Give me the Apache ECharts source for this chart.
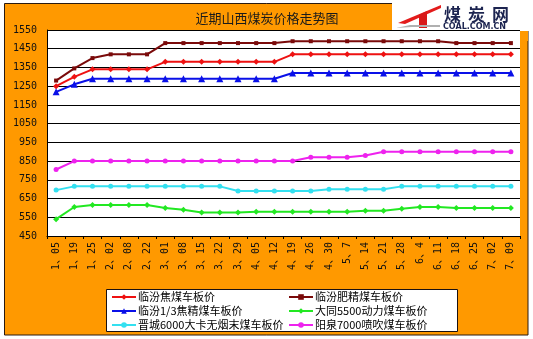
<!DOCTYPE html>
<html>
<head>
<meta charset="utf-8">
<script src="https://cdn.jsdelivr.net/npm/echarts@6/dist/echarts.min.js"></script>
<style>
  html, body { margin: 0; padding: 0; background: #ffffff; }
  #chart { width: 533px; height: 339px; }
</style>
</head>
<body>
<div id="chart"></div>
<script>
// Sampling dates (month、day)
var categories = ['1、05','1、19','1、25','2、02','2、08','2、22','3、01','3、08','3、15','3、22','3、29','4、05','4、12',
                  '4、19','4、26','4、30','5、7','5、14','5、21','5、28','6、4','6、11','6、18','6、25','7、02','7、09'];

// Prices, yuan/ton
var linfenJiao   = [1250,1300,1340,1340,1340,1340,1380,1380,1380,1380,1380,1380,1380,
                    1420,1420,1420,1420,1420,1420,1420,1420,1420,1420,1420,1420,1420];
var linfenFei    = [1280,1345,1400,1420,1420,1420,1480,1480,1480,1480,1480,1480,1480,
                    1490,1490,1490,1490,1490,1490,1490,1490,1490,1480,1480,1480,1480];
var linfen13     = [1220,1260,1290,1290,1290,1290,1290,1290,1290,1290,1290,1290,1290,
                    1320,1320,1320,1320,1320,1320,1320,1320,1320,1320,1320,1320,1320];
var datong5500   = [540,605,615,615,615,615,600,590,575,575,575,580,580,
                    580,580,580,580,585,585,595,605,605,600,600,600,600];
var jincheng6000 = [695,715,715,715,715,715,715,715,715,715,690,690,690,
                    690,690,700,700,700,700,715,715,715,715,715,715,715];
var yangquan7000 = [805,850,850,850,850,850,850,850,850,850,850,850,850,
                    850,870,870,870,880,900,900,900,900,900,900,900,900];

// Y-axis range and step
var yMin = 450, yMax = 1550, yStep = 100;

var seriesDefs = [
  { name: '临汾焦煤车板价',           data: linfenJiao,   color: '#EE1111', symbol: 'diamond',  size: 6 },
  { name: '临汾肥精煤车板价',         data: linfenFei,    color: '#7A0A0A', symbol: 'rect',     size: 4 },
  { name: '临汾1/3焦精煤车板价',      data: linfen13,     color: '#0A10E8', symbol: 'triangle', size: 7 },
  { name: '大同5500动力煤车板价',     data: datong5500,   color: '#22E822', symbol: 'diamond',  size: 6 },
  { name: '晋城6000大卡无烟末煤车板价', data: jincheng6000, color: '#33E0F0', symbol: 'circle',   size: 5 },
  { name: '阳泉7000喷吹煤车板价',     data: yangquan7000, color: '#EE22EE', symbol: 'circle',   size: 5 }
];

var cjk = '"Noto Sans CJK SC", "DejaVu Sans", sans-serif';
var mono = '"DejaVu Sans Mono", "Noto Sans CJK SC", monospace';

var chart = echarts.init(document.getElementById('chart'), null, { renderer: 'canvas' });

function makeLegend(left, names) {
  return {
    data: names,
    orient: 'vertical', left: left, top: 290, height: 60, padding: 0, itemGap: 0,
    itemWidth: 24, itemHeight: 7, z: 3,
    textStyle: { fontFamily: cjk, fontSize: 11, lineHeight: 14, color: '#000', padding: [0, 0, 0, -3] }
  };
}

var option = {
  animation: false,
  backgroundColor: '#ffffff',
  graphic: [
    // orange frame
    { type: 'rect', z: -10, silent: true,
      shape: { x: 4.5, y: 3.5, width: 523.5, height: 331.5 },
      style: { fill: '#FF9900', stroke: '#2a1a10', lineWidth: 1 } },
    // logo backdrop
    { type: 'rect', z: -9, silent: true,
      shape: { x: 392, y: 0, width: 141, height: 31 },
      style: { fill: '#ffffff' } },
    // right orange strip next to the plot, below the logo
    { type: 'rect', z: -8, silent: true,
      shape: { x: 521, y: 31, width: 7, height: 10 },
      style: { fill: '#FF9900' } },
    // logo mark
    { type: 'polygon', z: 5, silent: true,
      shape: { points: [[441,5],[398,23],[405,24],[441,8]] },
      style: { fill: '#E31B1B' } },
    { type: 'polygon', z: 5, silent: true,
      shape: { points: [[419,15],[427,11],[427,28],[419,28]] },
      style: { fill: '#D81818' } },
    { type: 'polygon', z: 5, silent: true,
      shape: { points: [[396,28],[410,25],[440,25],[440,27],[412,27]] },
      style: { fill: '#b0b0b0' } },
    { type: 'text', z: 6, silent: true, left: 444, top: 6,
      style: { text: '煤', fill: '#1c2450', font: 'bold 17px ' + cjk } },
    { type: 'text', z: 6, silent: true, left: 468, top: 6,
      style: { text: '炭', fill: '#1c2450', font: 'bold 17px ' + cjk } },
    { type: 'text', z: 6, silent: true, left: 492, top: 6,
      style: { text: '网', fill: '#1c2450', font: 'bold 17px ' + cjk } },
    { type: 'text', z: 6, silent: true, left: 443, top: 23,
      style: { text: 'COAL.COM.CN', fill: '#1c2450', font: 'bold 8px "DejaVu Sans", sans-serif' } },
    // legend box
    { type: 'rect', z: 1, silent: true,
      shape: { x: 106.5, y: 289.5, width: 351, height: 42 },
      style: { fill: '#ffffff', stroke: '#1a1010', lineWidth: 1 } }
  ],
  title: {
    text: '近期山西煤炭价格走势图',
    left: 262, top: 7, textAlign: 'center',
    textStyle: { fontFamily: cjk, fontSize: 13, fontWeight: 'normal', color: '#1a1a1a' }
  },
  legend: [
    makeLegend(111, [seriesDefs[0].name, seriesDefs[2].name, seriesDefs[4].name]),
    makeLegend(288, [seriesDefs[1].name, seriesDefs[3].name, seriesDefs[5].name])
  ],
  grid: {
    left: 47, right: 13, top: 30, bottom: 103,
    show: true, backgroundColor: '#ffffff', borderColor: '#444', borderWidth: 0,
    containLabel: false
  },
  xAxis: {
    type: 'category',
    data: categories,
    boundaryGap: true,
    axisLine: { show: true, lineStyle: { color: '#000', width: 1 } },
    axisTick: { show: true, inside: false, length: 3, lineStyle: { color: '#000' } },
    axisLabel: {
      rotate: 90, interval: 0, margin: 6,
      fontFamily: mono, fontSize: 10, color: '#111'
    },
    splitLine: { show: false }
  },
  yAxis: {
    type: 'value',
    min: yMin, max: yMax, interval: yStep,
    axisLine: { show: true, lineStyle: { color: '#000', width: 1 } },
    axisTick: { show: false },
    axisLabel: {
      margin: 10, fontFamily: mono, fontSize: 10, color: '#111',
      formatter: function (v) { return String(v); }
    },
    splitLine: { show: true, lineStyle: { color: '#000', width: 1 } }
  },
  series: seriesDefs.map(function (s) {
    return {
      name: s.name,
      type: 'line',
      data: s.data,
      symbol: s.symbol,
      symbolSize: s.size,
      showAllSymbol: true,
      lineStyle: { color: s.color, width: 2 },
      itemStyle: { color: s.color, borderWidth: 0 },
      z: 4
    };
  })
};

chart.setOption(option);
</script>
</body>
</html>
